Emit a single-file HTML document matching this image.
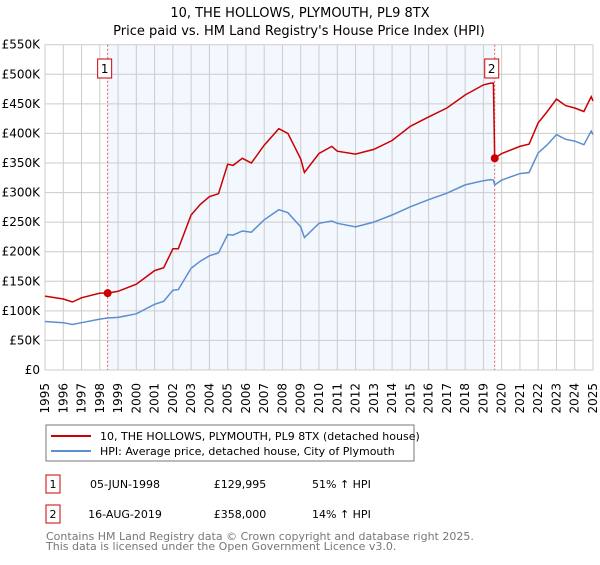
<!DOCTYPE html>
<html><head><meta charset="utf-8"><style>
body{margin:0;background:#fff;font-family:"Liberation Sans","DejaVu Sans",sans-serif;}
svg text{font-family:"DejaVu Sans","Liberation Sans",sans-serif;}
</style></head><body>
<svg id="c" width="600" height="560" xmlns="http://www.w3.org/2000/svg">
<text x="300" y="17" text-anchor="middle" font-size="13" fill="#000">10, THE HOLLOWS, PLYMOUTH, PL9 8TX</text>
<text x="299" y="35" text-anchor="middle" font-size="13" fill="#000">Price paid vs. HM Land Registry's House Price Index (HPI)</text>
<g id="plot"></g>
<rect x="46" y="425" width="368" height="36" fill="#fff" stroke="#777"/>
<line x1="51" y1="436" x2="91" y2="436" stroke="#cc0000" stroke-width="2"/>
<text x="100" y="440" font-size="11">10, THE HOLLOWS, PLYMOUTH, PL9 8TX (detached house)</text>
<line x1="51" y1="451" x2="91" y2="451" stroke="#5b8fd0" stroke-width="2"/>
<text x="100" y="455" font-size="11">HPI: Average price, detached house, City of Plymouth</text>
<g>
<rect x="46" y="475" width="14" height="18" fill="#fff" stroke="#cc0000"/>
<text x="53" y="488" font-size="11" text-anchor="middle">1</text>
<text x="125" y="488" font-size="11" text-anchor="middle">05-JUN-1998</text>
<text x="240" y="488" font-size="11" text-anchor="middle">£129,995</text>
<text x="312" y="488" font-size="11">51% ↑ HPI</text></g>
<g>
<rect x="46" y="505" width="14" height="18" fill="#fff" stroke="#cc0000"/>
<text x="53" y="518" font-size="11" text-anchor="middle">2</text>
<text x="125" y="518" font-size="11" text-anchor="middle">16-AUG-2019</text>
<text x="240" y="518" font-size="11" text-anchor="middle">£358,000</text>
<text x="312" y="518" font-size="11">14% ↑ HPI</text></g>
<text x="46" y="540" font-size="11" fill="#777">Contains HM Land Registry data © Crown copyright and database right 2025.</text>
<text x="46" y="550" font-size="11" fill="#777">This data is licensed under the Open Government Licence v3.0.</text>
</svg>
<script>
const dates=[1995.0,1996.0,1996.5,1997.0,1998.0,1998.43,1999.0,2000.0,2001.0,2001.5,2002.0,2002.3,2003.0,2003.5,2004.0,2004.5,2005.0,2005.3,2005.8,2006.3,2007.0,2007.8,2008.3,2009.0,2009.2,2010.0,2010.7,2011.0,2012.0,2013.0,2014.0,2015.0,2016.0,2017.0,2018.0,2019.0,2019.4,2019.55,2019.62,2020.0,2021.0,2021.5,2022.0,2022.5,2023.0,2023.5,2024.0,2024.5,2024.9,2025.0];
const hpiValues=[82,80,77,80,86,88,89,95,111,116,135,136,172,184,193,198,229,228,235,233,254,271,266,242,224,248,252,248,242,250,262,276,288,299,313,320,322,321,313,321,332,334,367,381,398,390,387,381,404,398];
const priceValues=[125,120,115,122,130,130,133,145,168,173,205,205,262,280,293,298,348,346,358,350,380,408,400,357,334,366,378,370,365,373,388,412,428,443,465,482,485,485,358,366,378,382,418,437,458,447,443,437,462,455];
const saleDates=[1998.43,2019.62];
const salePrices=[129.995,358];
const saleLabels=["1","2"];
const yTicks=[0,50,100,150,200,250,300,350,400,450,500,550];
const yTickLabels=["£0","£50K","£100K","£150K","£200K","£250K","£300K","£350K","£400K","£450K","£500K","£550K"];
const years=[1995,1996,1997,1998,1999,2000,2001,2002,2003,2004,2005,2006,2007,2008,2009,2010,2011,2012,2013,2014,2015,2016,2017,2018,2019,2020,2021,2022,2023,2024,2025];

const X0=45,X1=593,Y0=370,Y1=44.7;
const xs=v=>X0+(v-1995)/30*(X1-X0);
const ys=v=>Y0-v/550*(Y0-Y1);
const NS="http://www.w3.org/2000/svg";
const g=document.getElementById('plot');
function mk(t,a){const e=document.createElementNS(NS,t);for(const k in a)e.setAttribute(k,a[k]);g.appendChild(e);return e;}
let e;
e=mk('rect',{x:xs(saleDates[0]),y:Y1,width:xs(saleDates[1])-xs(saleDates[0]),height:Y0-Y1,fill:'#eef3fd',opacity:0.7});


years.forEach(yr=>{
 e=mk('line',{x1:xs(yr),x2:xs(yr),y1:Y1,y2:Y0,stroke:'#cccccc','stroke-width':1});
 
 
 e=mk('text',{x:0,y:0,'font-size':12,'text-anchor':'end',transform:`translate(${xs(yr)+4},${383}) rotate(-90)`});
 e.textContent=yr;
 
 
});
yTicks.forEach((t,i)=>{
 e=mk('line',{x1:X0,x2:X1,y1:ys(t),y2:ys(t),stroke:'#cccccc','stroke-width':1});
 
 
 e=mk('text',{x:40,y:ys(t)+4,'font-size':12,'text-anchor':'end'});
 e.textContent=yTickLabels[i];
 
 
});
saleDates.forEach((d,i)=>{
 e=mk('line',{x1:xs(d),x2:xs(d),y1:Y1,y2:Y0,stroke:'#e06060','stroke-dasharray':'2,2','stroke-width':1});
 
 
});
const path=vals=>vals.map((v,i)=>(i?'L':'M')+xs(dates[i]).toFixed(1)+','+ys(v).toFixed(1)).join('');
e=mk('path',{d:path(hpiValues),fill:'none',stroke:'#5b8fd0','stroke-width':1.5});


e=mk('path',{d:path(priceValues),fill:'none',stroke:'#cc0000','stroke-width':1.5});


saleDates.forEach((d,i)=>{
 e=mk('circle',{cx:xs(d),cy:ys(salePrices[i]),r:4,fill:'#cc0000'});
 
 
 e=mk('rect',{x:xs(d)-10,y:59,width:14,height:19,fill:'#fff',stroke:'#cc0000'});
 
 
 e=mk('text',{x:xs(d)-3,y:73,'font-size':12,'text-anchor':'middle'});
 e.textContent=saleLabels[i];
 
 
});
</script>
</body></html>
